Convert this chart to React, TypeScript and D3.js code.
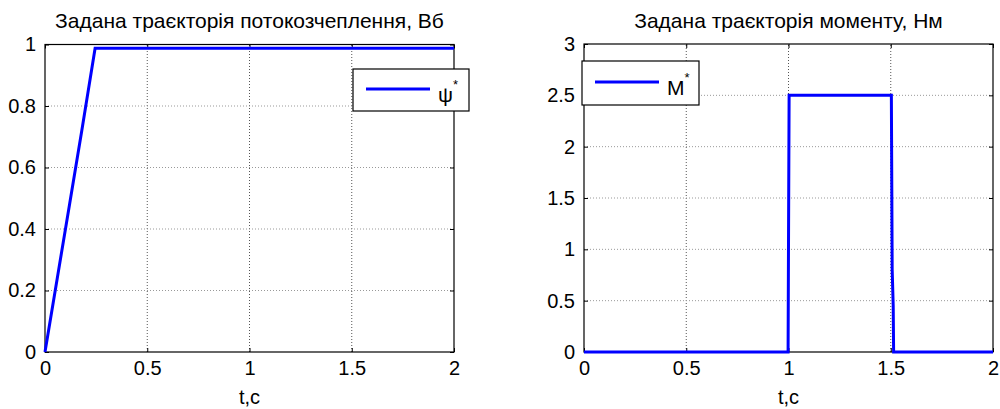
import { useEffect, useRef } from 'react'
import * as d3 from 'd3'

// time axis
const tTicks = [0, 0.5, 1, 1.5, 2]

// flux reference, Wb
const fluxTicks = [0, 0.2, 0.4, 0.6, 0.8, 1]
const fluxT = [0, 0.06, 0.12, 0.18, 0.245, 2]
const fluxV = [0, 0.24, 0.48, 0.72, 0.988, 0.988]

// torque reference, Nm
const torqueTicks = [0, 0.5, 1, 1.5, 2, 2.5, 3]
const torqueT = [0, 0.998, 1.0, 1.003, 1.503, 1.507, 1.512, 1.514, 2]
const torqueV = [0, 0, 1.05, 2.5, 2.5, 0.8, 0.45, 0, 0]

const FONT = 'Liberation Sans, Arial, sans-serif'

export default function App() {
  const svgRef = useRef<SVGSVGElement>(null)

  useEffect(() => {
    const svg = d3.select(svgRef.current)
    svg.selectAll('*').remove()

    const panels = [
      {
        title: 'Задана траєкторія потокозчеплення, Вб',
        x0: 45, x1: 454, y0: 352, y1: 44.5,
        yMax: 1, yTicks: fluxTicks, t: fluxT, v: fluxV,
        legend: { x: 353, y: 69, w: 116, h: 42, name: 'ψ' }
      },
      {
        title: 'Задана траєкторія моменту, Нм',
        x0: 584, x1: 993, y0: 352, y1: 44,
        yMax: 3, yTicks: torqueTicks, t: torqueT, v: torqueV,
        legend: { x: 582, y: 61, w: 117, h: 44, name: 'M' }
      }
    ]

    panels.forEach(p => {
      const x = d3.scaleLinear().domain([0, 2]).range([p.x0, p.x1])
      const y = d3.scaleLinear().domain([0, p.yMax]).range([p.y0, p.y1])
      const g = svg.append('g')

      // grid
      g.selectAll('.gx').data(tTicks.slice(1, -1)).join('line')
        .attr('x1', d => x(d)).attr('x2', d => x(d))
        .attr('y1', p.y0).attr('y2', p.y1)
        .attr('stroke', '#555').attr('stroke-dasharray', '1,2')
      g.selectAll('.gy').data(p.yTicks.slice(1, -1)).join('line')
        .attr('y1', d => y(d)).attr('y2', d => y(d))
        .attr('x1', p.x0).attr('x2', p.x1)
        .attr('stroke', '#999').attr('stroke-dasharray', '1,2')

      // axes (ticks inside, all four sides)
      const ax = (axis: any, tr: string) =>
        g.append('g').attr('transform', tr).call(axis)
          .call((s: any) => s.select('.domain').remove())
          .call((s: any) => s.selectAll('line').attr('stroke', '#000'))
          .call((s: any) => s.selectAll('text')
            .attr('font-family', FONT).attr('font-size', 20).attr('fill', '#000'))

      ax(d3.axisBottom(x).tickValues(tTicks).tickSize(-4).tickPadding(9).tickFormat(d3.format('')),
        `translate(0,${p.y0})`)
      ax(d3.axisTop(x).tickValues(tTicks).tickSize(-4).tickFormat(() => ''),
        `translate(0,${p.y1})`)
      ax(d3.axisLeft(y).tickValues(p.yTicks).tickSize(-4).tickPadding(9).tickFormat(d3.format('')),
        `translate(${p.x0},0)`)
      ax(d3.axisRight(y).tickValues(p.yTicks).tickSize(-4).tickFormat(() => ''),
        `translate(${p.x1},0)`)

      g.append('rect')
        .attr('x', p.x0).attr('y', p.y1)
        .attr('width', p.x1 - p.x0).attr('height', p.y0 - p.y1)
        .attr('fill', 'none').attr('stroke', '#000').attr('stroke-width', 1.2)

      // data line
      const pts: [number, number][] = p.t.map((t, i) => [t, p.v[i]])
      g.append('path')
        .datum(pts)
        .attr('d', d3.line<[number, number]>().x(d => x(d[0])).y(d => y(d[1])))
        .attr('fill', 'none').attr('stroke', '#0000ff').attr('stroke-width', 3)

      // title and x label
      g.append('text')
        .attr('x', (p.x0 + p.x1) / 2).attr('y', 28)
        .attr('text-anchor', 'middle')
        .attr('font-family', FONT).attr('font-size', 21)
        .text(p.title)
      g.append('text')
        .attr('x', (p.x0 + p.x1) / 2).attr('y', 404)
        .attr('text-anchor', 'middle')
        .attr('font-family', FONT).attr('font-size', 20)
        .text('t,c')

      // legend
      const L = p.legend
      const lg = g.append('g').attr('transform', `translate(${L.x},${L.y})`)
      lg.append('rect').attr('width', L.w).attr('height', L.h)
        .attr('fill', '#fff').attr('stroke', '#000').attr('stroke-width', 1.2)
      lg.append('line')
        .attr('x1', 13).attr('x2', 77).attr('y1', L.h / 2 - 1).attr('y2', L.h / 2 - 1)
        .attr('stroke', '#0000ff').attr('stroke-width', 3)
      const lt = lg.append('text')
        .attr('x', 85).attr('y', L.h / 2 + 12)
        .attr('font-family', FONT).attr('font-size', 21)
      lt.append('tspan').text(L.name)
      lt.append('tspan').attr('dy', -13).attr('font-size', 13).text('*')
    })
  }, [])

  return (
    <svg ref={svgRef} width={1000} height={409}
      style={{ position: 'absolute', left: 0, top: 0, background: '#fff' }} />
  )
}
